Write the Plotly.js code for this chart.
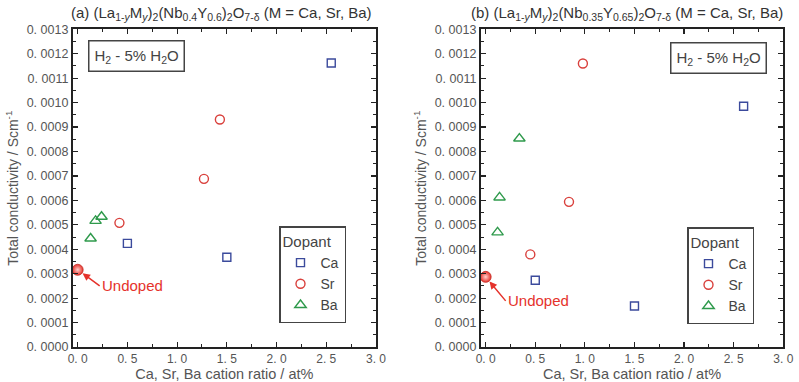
<!DOCTYPE html>
<html>
<head>
<meta charset="utf-8">
<script src="https://cdn.plot.ly/plotly-3.0.1.min.js"></script>
<style>html,body{margin:0;padding:0;background:#fff;}#chart{width:799px;height:382px;}</style>
</head>
<body>
<div id="chart"></div>
<script>
// ---- Data: panel (a) ----
var aCaX = [0.50, 1.50, 2.55];
var aCaY = [0.000424, 0.000367, 0.001162];
var aSrX = [0.42, 1.27, 1.43];
var aSrY = [0.000508, 0.000688, 0.000931];
var aBaX = [0.13, 0.18, 0.24];
var aBaY = [0.000444, 0.000516, 0.000533];
var aUndX = [0.0];
var aUndY = [0.000316];
// ---- Data: panel (b) ----
var bCaX = [0.50, 1.50, 2.60];
var bCaY = [0.000273, 0.000168, 0.000985];
var bSrX = [0.45, 0.84, 0.98];
var bSrY = [0.000379, 0.000594, 0.001160];
var bBaX = [0.12, 0.14, 0.34];
var bBaY = [0.000469, 0.000612, 0.000853];
var bUndX = [0.0];
var bUndY = [0.000287];
// ---- Tick labels ----
var yTickVals = [0,0.0001,0.0002,0.0003,0.0004,0.0005,0.0006,0.0007,0.0008,0.0009,0.0010,0.0011,0.0012,0.0013];
var yTickText = ["0. 0000","0. 0001","0. 0002","0. 0003","0. 0004","0. 0005","0. 0006","0. 0007","0. 0008","0. 0009","0. 0010","0. 0011","0. 0012","0. 0013"];
var xTickVals = [0,0.5,1.0,1.5,2.0,2.5,3.0];
var xTickText = ["0. 0","0. 5","1. 0","1. 5","2. 0","2. 5","3. 0"];
var dopants = ["Ca","Sr","Ba"];
var titleA = "(a) (La<sub>1-<i>y</i></sub>M<sub><i>y</i></sub>)<sub>2</sub>(Nb<sub>0.4</sub>Y<sub>0.6</sub>)<sub>2</sub>O<sub>7-δ</sub> (M = Ca, Sr, Ba)";
var titleB = "(b) (La<sub>1-<i>y</i></sub>M<sub><i>y</i></sub>)<sub>2</sub>(Nb<sub>0.35</sub>Y<sub>0.65</sub>)<sub>2</sub>O<sub>7-δ</sub> (M = Ca, Sr, Ba)";
var atmText = "H<sub>2</sub> - 5% H<sub>2</sub>O";
var xTitle = "Ca, Sr, Ba cation ratio / at%";
var yTitle = "Total conductivity / Scm<sup>-1</sup>";
var undopedLabel = "Undoped";

var cCa = "#3b4a9c", cSr = "#d9403c", cBa = "#2f9a4c", cUnd = "#e5322b";
var FONT = "Liberation Sans, Arial, sans-serif";

function sym(name, x, y, xa, ya, leg, symbol, color, size) {
  return {x: x, y: y, xaxis: xa, yaxis: ya, legend: leg, name: name, type: 'scatter', mode: 'markers',
    marker: {symbol: symbol, size: size, color: color, line: {color: color, width: 1.4}}};
}
function und(x, y, xa, ya) {
  return {x: x, y: y, xaxis: xa, yaxis: ya, type: 'scatter', mode: 'markers', showlegend: false,
    marker: {symbol: 'circle', size: 11, color: cUnd, line: {color: '#c42a22', width: 0.8},
      gradient: {type: 'radial', color: '#ffd0cc'}}};
}

var traces = [
  sym(dopants[0], aCaX, aCaY, 'x', 'y', 'legend', 'square-open', cCa, 8),
  sym(dopants[1], aSrX, aSrY, 'x', 'y', 'legend', 'circle-open', cSr, 9),
  sym(dopants[2], aBaX, aBaY, 'x', 'y', 'legend', 'triangle-up-open', cBa, 10),
  und(aUndX, aUndY, 'x', 'y'),
  sym(dopants[0], bCaX, bCaY, 'x2', 'y2', 'legend2', 'square-open', cCa, 8),
  sym(dopants[1], bSrX, bSrY, 'x2', 'y2', 'legend2', 'circle-open', cSr, 9),
  sym(dopants[2], bBaX, bBaY, 'x2', 'y2', 'legend2', 'triangle-up-open', cBa, 10),
  und(bUndX, bUndY, 'x2', 'y2')
];

var yDom = [0.0916, 0.9233];
function xAxis(dom, anchor) {
  return {domain: dom, anchor: anchor, range: [-0.05, 3.0], tickmode: 'array', tickvals: xTickVals, ticktext: xTickText,
    ticks: 'inside', ticklen: 5, tickwidth: 1.2, tickcolor: '#222', showline: true, linecolor: '#222', linewidth: 1.8,
    mirror: 'ticks', showgrid: false, zeroline: false, tickfont: {family: FONT, size: 12, color: '#555'},
    minor: {tickmode: 'linear', tick0: 0, dtick: 0.25, ticks: 'inside', ticklen: 3, tickcolor: '#222', tickwidth: 1},
    title: {text: xTitle, font: {family: FONT, size: 14.5, color: '#555'}, standoff: 4}};
}
function yAxis(anchor) {
  return {domain: yDom, anchor: anchor, range: [0, 0.0013], tickmode: 'array', tickvals: yTickVals, ticktext: yTickText,
    ticks: 'inside', ticklen: 5, tickwidth: 1.2, tickcolor: '#222', showline: true, linecolor: '#222', linewidth: 1.8,
    mirror: 'ticks', showgrid: false, zeroline: false, tickfont: {family: FONT, size: 12.5, color: '#555'},
    minor: {tickmode: 'linear', tick0: 0, dtick: 0.00005, ticks: 'inside', ticklen: 3, tickcolor: '#222', tickwidth: 1},
    title: {text: yTitle, font: {family: FONT, size: 14, color: '#555'}, standoff: 5}};
}
function legend(xpx, ypx) {
  return {x: xpx / 799, y: (382 - ypx) / 382, xanchor: 'left', yanchor: 'top', bgcolor: '#fff',
    bordercolor: '#444', borderwidth: 1.5, font: {family: FONT, size: 14, color: '#444'},
    title: {text: 'Dopant', font: {family: FONT, size: 15, color: '#444'}}, tracegroupgap: 0, itemwidth: 30};
}

var layout = {
  width: 799, height: 382, margin: {l: 0, r: 0, t: 0, b: 0}, paper_bgcolor: '#fff', plot_bgcolor: '#fff',
  showlegend: true,
  xaxis: xAxis([72.7/799, 376/799], 'y'),
  yaxis: yAxis('x'),
  xaxis2: xAxis([480.7/799, 783.3/799], 'y2'),
  yaxis2: yAxis('x2'),
  legend: legend(279, 226),
  legend2: legend(687, 227),
  annotations: [
    {text: titleA, xref: 'paper', yref: 'paper', x: 221/799, y: (382-14)/382, xanchor: 'center', yanchor: 'middle', showarrow: false, font: {family: FONT, size: 15, color: '#333'}},
    {text: titleB, xref: 'paper', yref: 'paper', x: 627/799, y: (382-14)/382, xanchor: 'center', yanchor: 'middle', showarrow: false, font: {family: FONT, size: 15, color: '#333'}},
    {text: atmText, xref: 'paper', yref: 'paper', x: 136.5/799, y: (382-56.3)/382, xanchor: 'center', yanchor: 'middle', showarrow: false, bordercolor: '#444', borderwidth: 1.5, borderpad: 5, bgcolor: '#fff', font: {family: FONT, size: 15, color: '#444'}},
    {text: atmText, xref: 'paper', yref: 'paper', x: 718.3/799, y: (382-58.2)/382, xanchor: 'center', yanchor: 'middle', showarrow: false, bordercolor: '#444', borderwidth: 1.5, borderpad: 5, bgcolor: '#fff', font: {family: FONT, size: 15, color: '#444'}},
    {text: undopedLabel, xref: 'x', yref: 'y', x: aUndX[0], y: aUndY[0], ax: 22, ay: 16, showarrow: true, arrowhead: 2, arrowsize: 1, arrowwidth: 1.5, arrowcolor: cUnd, standoff: 6, xanchor: 'left', font: {family: FONT, size: 15, color: cUnd}},
    {text: undopedLabel, xref: 'x2', yref: 'y2', x: bUndX[0], y: bUndY[0], ax: 20, ay: 24, showarrow: true, arrowhead: 2, arrowsize: 1, arrowwidth: 1.5, arrowcolor: cUnd, standoff: 6, xanchor: 'left', font: {family: FONT, size: 15, color: cUnd}}
  ]
};

Plotly.newPlot('chart', traces, layout, {staticPlot: true, displayModeBar: false});
</script>
</body>
</html>
